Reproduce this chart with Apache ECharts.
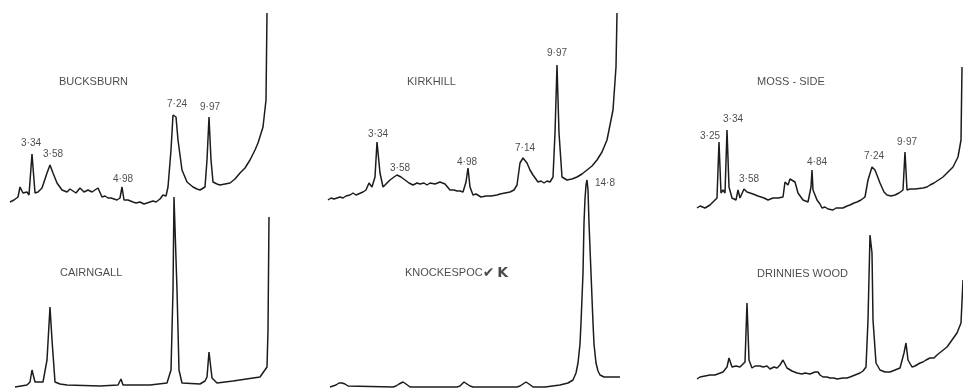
<!DOCTYPE html>
<html>
<head>
<meta charset="utf-8">
<script src="https://cdn.jsdelivr.net/npm/echarts@6/dist/echarts.min.js"></script>
<style>
  html, body { margin: 0; padding: 0; background: #fff; }
  #chart { width: 963px; height: 389px; }
</style>
</head>
<body>
<div id="chart"></div>
<script>
// X-ray diffraction traces, [scan position, intensity]
const bucksburn = [[2,8],[6,10],[10,13],[12,23],[15,17],[19,18],[21,15],[24,56],[27,17],[30,18],[34,22],[39,37],[42,45],[45,37],[49,27],[54,20],[59,18],[62,21],[64,20],[68,17],[72,22],[76,18],[80,20],[84,18],[87,20],[90,22],[92,20],[94,13],[97,14],[100,12],[103,12],[105,11],[109,10],[112,12],[114,23],[116,10],[118,9],[120,10],[122,8],[125,8],[128,7],[132,8],[136,6],[139,7],[142,8],[145,9],[148,8],[152,11],[155,15],[158,14],[160,23],[163,60],[165,95],[168,93],[170,70],[174,40],[179,28],[185,23],[189,21],[192,20],[197,23],[199,50],[201,93],[203,50],[205,28],[209,26],[212,25],[217,26],[222,27],[227,31],[232,37],[237,42],[242,50],[247,60],[250,67],[255,83],[258,110],[259,197]];
const cairngall = [[7,2],[19,4],[22,7],[24,19],[27,7],[35,7],[39,29],[42,82],[44,49],[47,7],[52,5],[59,4],[92,3],[110,4],[113,10],[115,4],[142,4],[159,6],[163,19],[165,99],[166,192],[168,192],[169,99],[171,19],[174,6],[192,5],[197,8],[199,12],[201,37],[204,11],[209,6],[225,8],[252,12],[259,22],[260,59],[261,172]];
const kirkhill = [[6,10],[9,12],[12,11],[15,12],[18,13],[21,12],[24,14],[28,15],[31,17],[34,15],[36,16],[41,18],[44,20],[47,27],[50,23],[53,33],[55,68],[58,37],[61,23],[64,26],[68,30],[72,33],[75,35],[79,33],[83,30],[87,27],[91,25],[95,27],[98,26],[102,27],[105,25],[108,27],[110,28],[113,26],[115,25],[118,28],[120,27],[123,26],[125,27],[128,20],[132,20],[135,19],[138,19],[141,18],[144,28],[146,42],[148,23],[151,15],[154,16],[156,14],[159,13],[161,12],[164,14],[166,13],[169,14],[171,15],[175,15],[178,16],[183,17],[188,18],[192,20],[195,25],[198,47],[201,52],[205,47],[208,40],[211,35],[216,28],[219,29],[222,27],[225,29],[228,28],[231,33],[233,77],[235,145],[237,77],[240,33],[245,30],[250,31],[255,33],[260,36],[265,40],[270,44],[275,50],[280,58],[285,70],[291,100],[294,143],[295,197]];
const knockespoch = [[8,2],[11,3],[14,4],[17,6],[20,6],[23,5],[26,3],[28,2],[71,2],[74,3],[77,5],[81,7],[84,5],[86,3],[88,2],[135,2],[138,3],[140,5],[142,7],[145,5],[148,3],[151,2],[195,2],[198,3],[201,5],[204,7],[207,5],[209,3],[211,2],[223,2],[238,4],[246,6],[251,9],[254,16],[256,26],[258,45],[259,66],[261,116],[262,166],[263,190],[264,204],[265,209],[266,199],[267,166],[269,116],[271,66],[272,45],[274,26],[276,18],[278,14],[282,12],[285,12],[298,12]];
const mossSide = [[7,4],[10,6],[12,6],[15,4],[17,5],[20,7],[23,10],[27,14],[29,70],[31,19],[33,22],[35,19],[37,82],[39,25],[42,14],[46,12],[48,22],[50,14],[54,23],[57,20],[60,19],[63,18],[65,17],[68,16],[70,15],[74,14],[78,12],[83,14],[88,14],[93,15],[95,30],[98,27],[100,33],[102,32],[105,30],[108,19],[113,12],[118,10],[121,25],[122,42],[123,22],[125,17],[127,12],[130,8],[132,4],[135,5],[138,3],[143,2],[146,4],[148,3],[153,4],[157,6],[160,7],[164,9],[167,10],[171,12],[175,15],[178,32],[182,45],[185,42],[190,29],[194,20],[197,17],[201,16],[205,17],[209,19],[213,22],[215,60],[217,22],[220,23],[222,21],[225,23],[227,22],[233,24],[237,25],[240,27],[244,29],[247,31],[253,35],[258,40],[263,45],[268,55],[271,72],[272,145]];
const drinniesWood = [[7,10],[10,12],[12,11],[15,13],[17,12],[20,14],[22,12],[25,14],[27,14],[33,17],[37,22],[39,31],[42,22],[46,23],[50,22],[55,27],[57,86],[59,29],[62,21],[65,23],[67,22],[70,23],[73,22],[77,23],[80,20],[84,22],[87,21],[90,24],[93,29],[97,21],[102,18],[107,16],[112,15],[115,16],[117,14],[120,15],[122,15],[125,17],[128,17],[130,14],[133,12],[137,12],[140,11],[144,11],[147,10],[153,11],[157,11],[160,12],[165,14],[170,16],[173,18],[176,22],[178,69],[180,154],[182,136],[183,69],[186,26],[190,19],[195,17],[200,17],[205,19],[210,21],[214,36],[216,46],[218,29],[222,22],[225,23],[227,25],[230,26],[233,27],[236,29],[240,31],[244,31],[247,34],[252,38],[257,42],[262,49],[267,56],[271,66],[273,109]];

// peak labels (d-spacing, Å): [position, intensity, text]
const bucksburnPeaks = [[23,67,'3·34'],[45,56,'3·58'],[115,31,'4·98'],[169,106,'7·24'],[202,103,'9·97']];
const cairngallPeaks = [];
const kirkhillPeaks = [[56,76,'3·34'],[78,42,'3·58'],[145,48,'4·98'],[203,62,'7·14'],[235,157,'9·97']];
const knockespochPeaks = [[283,206,'14·8']];
const mossSidePeaks = [[20,76,'3·25'],[43,93,'3·34'],[59,33,'3·58'],[127,50,'4·84'],[184,56,'7·24'],[217,70,'9·97']];
const drinniesWoodPeaks = [];

// sample names: [position, intensity, text]
const sampleNames = [
  [[51,128,'BUCKSBURN']],
  [[52,116,'CAIRNGALL']],
  [[85,128,'KIRKHILL']],
  [[83,116,'KNOCKESPOC{c|✔}{k|K}']],
  [[67,130,'MOSS - SIDE']],
  [[67,115,'DRINNIES WOOD']]
];

const traces = [bucksburn, cairngall, kirkhill, knockespoch, mossSide, drinniesWood];
const peaks = [bucksburnPeaks, cairngallPeaks, kirkhillPeaks, knockespochPeaks, mossSidePeaks, drinniesWoodPeaks];

// panel layout
const grids = [
  {left: 8, top: 8, width: 262, height: 202},
  {left: 8, top: 184, width: 265, height: 205},
  {left: 322, top: 8, width: 300, height: 202},
  {left: 322, top: 176, width: 300, height: 213},
  {left: 690, top: 8, width: 273, height: 204},
  {left: 690, top: 220, width: 273, height: 169}
];

const ink = '#1c1c1c';
const chart = echarts.init(document.getElementById('chart'));

const xAxis = grids.map((g, i) => ({
  type: 'value', gridIndex: i, min: 0, max: g.width, show: false
}));
const yAxis = grids.map((g, i) => ({
  type: 'value', gridIndex: i, min: 0, max: g.height, show: false
}));

const series = [];
traces.forEach((data, i) => {
  series.push({
    type: 'line', xAxisIndex: i, yAxisIndex: i, data: data,
    showSymbol: false, silent: true, animation: false,
    lineStyle: {color: ink, width: 1.5}
  });
  series.push({
    type: 'scatter', xAxisIndex: i, yAxisIndex: i, data: peaks[i],
    symbolSize: 1, itemStyle: {color: 'rgba(0,0,0,0)'}, animation: false,
    label: {
      show: true, position: 'inside', color: ink, fontSize: 10,
      fontFamily: 'Liberation Sans, Arial, sans-serif',
      formatter: p => p.value[2]
    }
  });
  series.push({
    type: 'scatter', xAxisIndex: i, yAxisIndex: i, data: sampleNames[i],
    symbolSize: 1, itemStyle: {color: 'rgba(0,0,0,0)'}, animation: false,
    label: {
      show: true, position: 'inside', align: 'left', color: ink, fontSize: 11,
      fontFamily: 'Liberation Sans, Arial, sans-serif',
      formatter: p => p.value[2],
      rich: {
        c: {fontSize: 14, fontFamily: 'DejaVu Sans', color: ink, fontWeight: 'bold'},
        k: {fontSize: 14, fontFamily: 'DejaVu Sans', color: ink, fontWeight: 'bold', padding: [0, 0, 0, 3]}
      }
    }
  });
});

chart.setOption({
  backgroundColor: '#fff',
  animation: false,
  grid: grids,
  xAxis: xAxis,
  yAxis: yAxis,
  series: series
});
</script>
</body>
</html>
